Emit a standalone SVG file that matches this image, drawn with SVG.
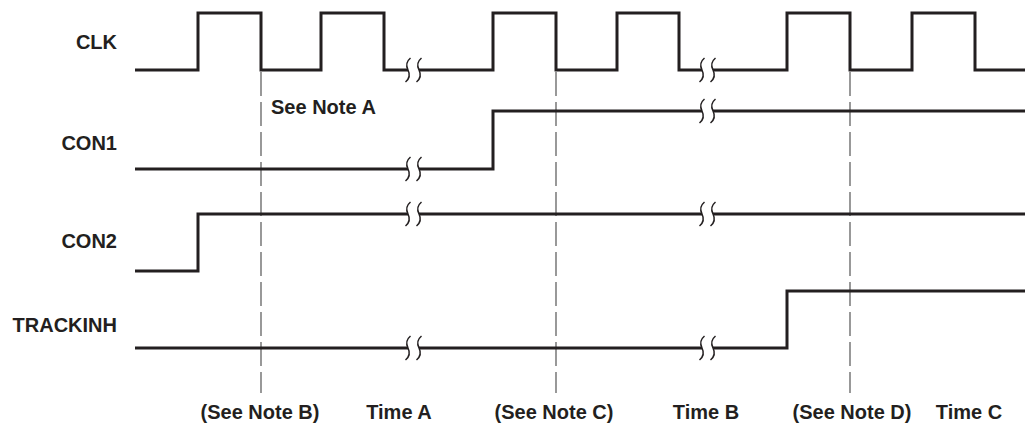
<svg xmlns="http://www.w3.org/2000/svg" width="1027" height="423" viewBox="0 0 1027 423">
<style>
.sig{fill:none;stroke:#231f20;stroke-width:3;stroke-linejoin:miter;stroke-linecap:butt}
.brk{fill:none;stroke:#231f20;stroke-width:1.5}
.dash{fill:none;stroke:#555;stroke-width:1.2;stroke-dasharray:24 6}
text{font-family:"Liberation Sans",Arial,sans-serif;font-weight:bold;font-size:20px;fill:#231f20}
.lbl{text-anchor:end}
.mid{text-anchor:middle}
</style>
<defs>
<path id="s" class="brk" d="M2.5,-12 Q-3.5,-7 0,0 Q3.5,7 -2.5,12"/>
<g id="br1"><use href="#s" x="408"/><use href="#s" x="419"/></g>
<g id="br2"><use href="#s" x="702"/><use href="#s" x="713"/></g>
</defs>
<g id="labels">
<text class="lbl" x="117" y="49">CLK</text>
<text class="lbl" x="117" y="150">CON1</text>
<text class="lbl" x="117" y="248">CON2</text>
<text class="lbl" x="117" y="332">TRACKINH</text>
<text x="271" y="114">See Note A</text>
<text class="mid" x="260" y="419">(See Note B)</text>
<text class="mid" x="399" y="419">Time A</text>
<text class="mid" x="554" y="419">(See Note C)</text>
<text class="mid" x="706" y="419">Time B</text>
<text class="mid" x="852" y="419">(See Note D)</text>
<text class="mid" x="969" y="419">Time C</text>
</g>
<g id="markers">
<line class="dash" x1="261" y1="72" x2="261" y2="393"/>
<line class="dash" x1="556" y1="72" x2="556" y2="393"/>
<line class="dash" x1="850" y1="72" x2="850" y2="393"/>
</g>
<g id="CLK">
<path class="sig" d="M135,70 H198 V13 H261 V70 H321 V13 H384 V70 H408"/>
<path class="sig" d="M419,70 H493 V13 H556 V70 H617 V13 H679 V70 H702"/>
<path class="sig" d="M713,70 H787 V13 H850 V70 H912 V13 H975 V70 H1025"/>
<use href="#br1" y="70"/><use href="#br2" y="70"/>
</g>
<g id="CON1">
<path class="sig" d="M135,169 H408"/>
<path class="sig" d="M419,169 H493 V111 H702"/>
<path class="sig" d="M713,111 H1025"/>
<use href="#br1" y="169"/><use href="#br2" y="111"/>
</g>
<g id="CON2">
<path class="sig" d="M135,271 H198 V214 H408"/>
<path class="sig" d="M419,214 H702"/>
<path class="sig" d="M713,214 H1025"/>
<use href="#br1" y="214"/><use href="#br2" y="214"/>
</g>
<g id="TRACKINH">
<path class="sig" d="M135,348 H408"/>
<path class="sig" d="M419,348 H702"/>
<path class="sig" d="M713,348 H787 V291 H1025"/>
<use href="#br1" y="348"/><use href="#br2" y="348"/>
</g>
</svg>
